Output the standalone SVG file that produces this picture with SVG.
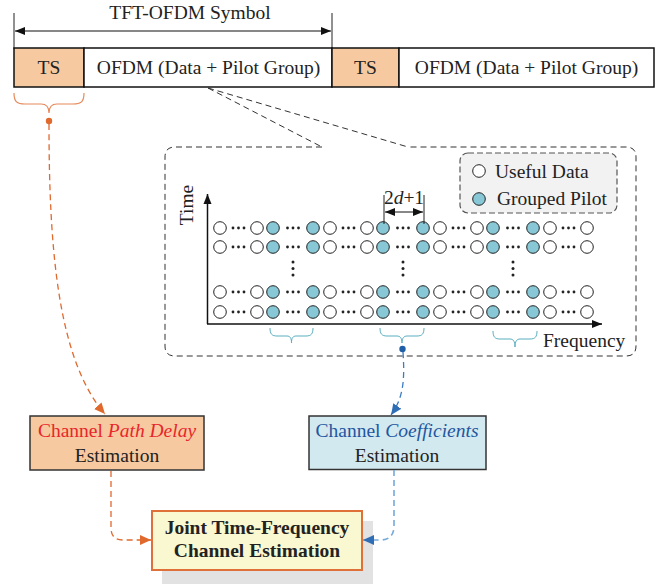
<svg xmlns="http://www.w3.org/2000/svg" xmlns:xlink="http://www.w3.org/1999/xlink" width="671" height="584" viewBox="0 0 671 584">
<style>
text{font-family:"Liberation Serif","Times New Roman",serif;font-size:19.5px;fill:#222}
.bx{stroke:#111;stroke-width:1.5}
.ts{fill:#F6C9A0}
.op{fill:#fff;stroke:#222;stroke-width:1}
.pl{fill:#88C8D6;stroke:#222;stroke-width:1}
.sd{fill:#222}
.dash{fill:none;stroke:#333;stroke-width:1;stroke-dasharray:6,4}
.brT{fill:none;stroke:#5AAFC0;stroke-width:1}
.or{fill:none;stroke:#E0692E;stroke-width:1.3;stroke-dasharray:6,4}
.bl{fill:none;stroke:#3B7CC4;stroke-width:1.3;stroke-dasharray:6,4}
.bl2{fill:none;stroke:#74A9DA;stroke-width:1.6;stroke-dasharray:6,4}
</style>
<defs>
<marker id="ak" viewBox="0 0 10 10" refX="10" refY="5" markerWidth="10" markerHeight="10" markerUnits="userSpaceOnUse" orient="auto-start-reverse"><path d="M0,1 L10,5 L0,9 Z" fill="#111"/></marker>
<marker id="ao" viewBox="0 0 10 10" refX="10" refY="5" markerWidth="11" markerHeight="11" markerUnits="userSpaceOnUse" orient="auto"><path d="M0,0.5 L10,5 L0,9.5 Z" fill="#E0692E"/></marker>
<marker id="ab" viewBox="0 0 10 10" refX="10" refY="5" markerWidth="11" markerHeight="11" markerUnits="userSpaceOnUse" orient="auto"><path d="M0,0.5 L10,5 L0,9.5 Z" fill="#2F6DB5"/></marker>
<g id="row">
<circle class="op" cx="220" cy="0" r="6.3"/><circle class="op" cx="257" cy="0" r="6.3"/>
<circle class="pl" cx="273" cy="0" r="6.3"/><circle class="pl" cx="313" cy="0" r="6.3"/>
<circle class="op" cx="330" cy="0" r="6.3"/><circle class="op" cx="367" cy="0" r="6.3"/>
<circle class="pl" cx="383" cy="0" r="6.3"/><circle class="pl" cx="423" cy="0" r="6.3"/>
<circle class="op" cx="440" cy="0" r="6.3"/><circle class="op" cx="477" cy="0" r="6.3"/>
<circle class="pl" cx="493" cy="0" r="6.3"/><circle class="pl" cx="533" cy="0" r="6.3"/>
<circle class="op" cx="550" cy="0" r="6.3"/><circle class="op" cx="587" cy="0" r="6.3"/>
<g class="sd">
<circle cx="233" cy="0" r="1.4"/><circle cx="238.5" cy="0" r="1.4"/><circle cx="244" cy="0" r="1.4"/>
<circle cx="287.5" cy="0" r="1.4"/><circle cx="293" cy="0" r="1.4"/><circle cx="298.5" cy="0" r="1.4"/>
<circle cx="343" cy="0" r="1.4"/><circle cx="348.5" cy="0" r="1.4"/><circle cx="354" cy="0" r="1.4"/>
<circle cx="397.5" cy="0" r="1.4"/><circle cx="403" cy="0" r="1.4"/><circle cx="408.5" cy="0" r="1.4"/>
<circle cx="453" cy="0" r="1.4"/><circle cx="458.5" cy="0" r="1.4"/><circle cx="464" cy="0" r="1.4"/>
<circle cx="507.5" cy="0" r="1.4"/><circle cx="513" cy="0" r="1.4"/><circle cx="518.5" cy="0" r="1.4"/>
<circle cx="563" cy="0" r="1.4"/><circle cx="568.5" cy="0" r="1.4"/><circle cx="574" cy="0" r="1.4"/>
</g>
</g>
<g id="vd" class="sd"><circle cx="0" cy="262" r="1.5"/><circle cx="0" cy="268.5" r="1.5"/><circle cx="0" cy="275" r="1.5"/></g>
</defs>
<rect width="671" height="584" fill="#fff"/>

<g id="symbol-span">
<line x1="14" y1="13" x2="14" y2="49" stroke="#222" stroke-width="1"/>
<line x1="332" y1="13" x2="332" y2="49" stroke="#222" stroke-width="1"/>
<line x1="15" y1="31" x2="331" y2="31" stroke="#111" stroke-width="1.2" marker-start="url(#ak)" marker-end="url(#ak)"/>
<text x="190" y="19" text-anchor="middle">TFT-OFDM Symbol</text>
</g>

<g id="frame">
<rect id="ts1" class="bx ts" x="14" y="48" width="70" height="39"/>
<rect id="ofdm1" class="bx" fill="#fff" x="84" y="48" width="248" height="39"/>
<rect id="ts2" class="bx ts" x="332" y="48" width="67" height="39"/>
<rect id="ofdm2" class="bx" fill="#fff" x="399" y="48" width="255" height="39"/>
<text x="49" y="74" text-anchor="middle">TS</text>
<text x="208.5" y="74" text-anchor="middle">OFDM (Data + Pilot Group)</text>
<text x="365.5" y="74" text-anchor="middle">TS</text>
<text x="526.5" y="74" text-anchor="middle">OFDM (Data + Pilot Group)</text>
</g>

<g id="ts-brace">
<path d="M14,93 C14,102 17,104 25,104 L41,104 C46,104 49,106 49,113 C49,106 52,104 57,104 L73,104 C81,104 84,102 84,93" fill="none" stroke="#E8895A" stroke-width="1.2"/>
<circle cx="49" cy="121" r="3.2" fill="#E0692E"/>
</g>

<g id="zoom-box">
<path class="dash" d="M208,88 L322,147 M208,88 L408,147"/>
<path class="dash" d="M322,147 L175,147 Q165,147 165,157 L165,346 Q165,356 175,356 L626,356 Q636,356 636,346 L636,157 Q636,147 626,147 L408,147"/>
</g>

<g id="legend">
<rect x="460" y="153" width="157" height="60" rx="8" fill="#F2F2F2" stroke="#555" stroke-width="1.2" stroke-dasharray="6,3"/>
<circle class="op" cx="479" cy="171" r="6.3"/>
<circle class="pl" cx="479" cy="199" r="6.3"/>
<text x="495" y="178">Useful Data</text>
<text x="497" y="205">Grouped Pilot</text>
</g>

<g id="grid">
<line x1="207.5" y1="324" x2="207.5" y2="194" stroke="#111" stroke-width="1.5" marker-end="url(#ak)"/>
<line x1="207" y1="324" x2="602" y2="324" stroke="#111" stroke-width="1.5" marker-end="url(#ak)"/>
<text transform="translate(193,205) rotate(-90)" text-anchor="middle">Time</text>
<text x="543" y="347">Frequency</text>
<use xlink:href="#row" y="228"/>
<use xlink:href="#row" y="247"/>
<use xlink:href="#row" y="292"/>
<use xlink:href="#row" y="312"/>
<use xlink:href="#vd" x="293"/>
<use xlink:href="#vd" x="403"/>
<use xlink:href="#vd" x="513"/>
<line x1="384" y1="195" x2="384" y2="224" stroke="#222" stroke-width="1"/>
<line x1="424" y1="195" x2="424" y2="224" stroke="#222" stroke-width="1"/>
<line x1="385" y1="212" x2="423" y2="212" stroke="#111" stroke-width="1" marker-start="url(#ak)" marker-end="url(#ak)"/>
<text x="404" y="204" text-anchor="middle">2<tspan font-style="italic">d</tspan>+1</text>
<path class="brT" d="M270,328 C270,334 272,336 277,336 L287,336 C290,336 291.5,338 291.5,343 C291.5,338 293,336 296,336 L306,336 C311,336 313,334 313,328"/>
<path class="brT" d="M380,328 C380,334 382,336 387,336 L397,336 C400,336 402,338 402,343 C402,338 404,336 407,336 L417,336 C422,336 424,334 424,328"/>
<path class="brT" d="M493,331 C493,337 495,339 500,339 L510,339 C513,339 515,341 515,347 C515,341 517,339 520,339 L530,339 C535,339 537,337 537,331"/>
<circle cx="402.5" cy="349" r="3.2" fill="#1F5FA8"/>
</g>

<g id="path-delay">
<rect x="30" y="416" width="174" height="54" fill="#F6C9A0" stroke="#333" stroke-width="1.5"/>
<text x="117" y="437" text-anchor="middle" fill="#E8262B" style="fill:#E8262B">Channel <tspan font-style="italic">Path Delay</tspan></text>
<text x="117" y="462" text-anchor="middle">Estimation</text>
</g>

<g id="coefficients">
<rect x="309" y="416" width="177" height="53.5" fill="#D3E9F0" stroke="#333" stroke-width="1.5"/>
<text x="397" y="437" text-anchor="middle" style="fill:#2356A0">Channel <tspan font-style="italic">Coefficients</tspan></text>
<text x="397" y="462" text-anchor="middle">Estimation</text>
</g>

<g id="joint">
<rect x="162" y="521" width="211" height="63" fill="#E2E2E2"/>
<rect x="152" y="511" width="210" height="59" fill="#FAF8D0" stroke="#E0703A" stroke-width="2"/>
<text x="257" y="534" text-anchor="middle" font-weight="bold">Joint Time-Frequency</text>
<text x="257" y="557" text-anchor="middle" font-weight="bold">Channel Estimation</text>
</g>

<g id="connectors">
<path class="or" d="M49,124 C49,250 58,360 105,414" marker-end="url(#ao)"/>
<path class="bl" d="M403,352 C405,382 403,398 391,415" marker-end="url(#ab)"/>
<path class="or" d="M111,471 L111,528 Q111,540 123,540 L151,540" marker-end="url(#ao)"/>
<path class="bl2" d="M394,470 L394,526 Q394,540 380,540 L363,540" marker-end="url(#ab)"/>
</g>
</svg>
